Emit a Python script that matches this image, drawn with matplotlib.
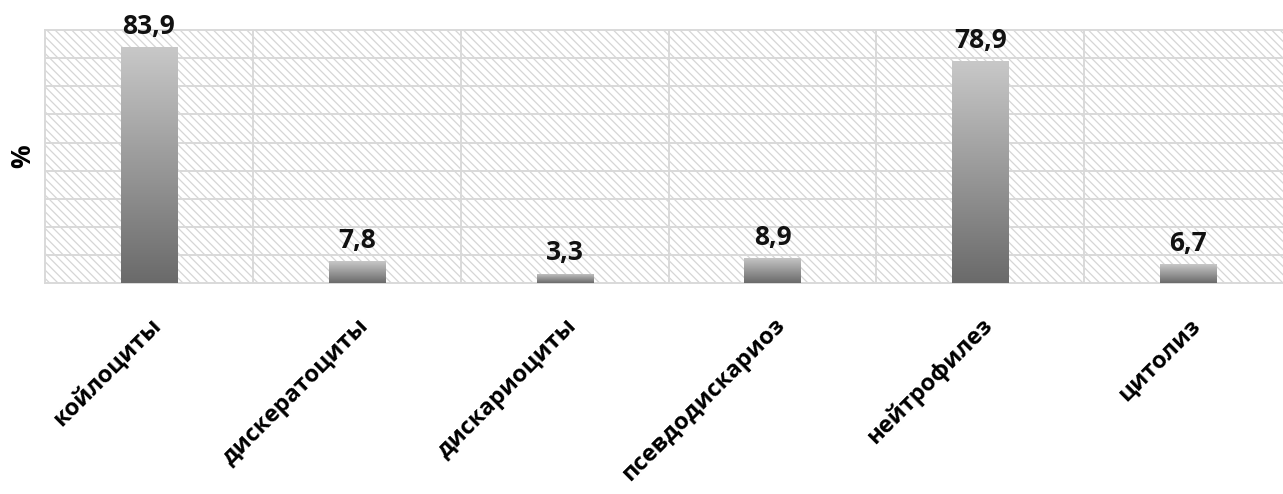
import numpy as np
import matplotlib.pyplot as plt
from matplotlib.colors import LinearSegmentedColormap
from matplotlib.patches import Rectangle

# cytology findings, share of cases
categories = ['койлоциты', 'дискератоциты', 'дискариоциты',
              'псевдодискариоз', 'нейтрофилез', 'цитолиз']
values = [83.9, 7.8, 3.3, 8.9, 78.9, 6.7]
value_labels = ['83,9', '7,8', '3,3', '8,9', '78,9', '6,7']

plt.rcParams['font.family'] = ['Open Sans', 'DejaVu Sans']
plt.rcParams['hatch.linewidth'] = 0.9

fig = plt.figure(figsize=(12.83, 4.94), dpi=100)
ax = fig.add_axes([0.0351, 0.427, 0.972, 0.512])

x = np.arange(len(categories))
ax.set_xlim(-0.5, len(categories) - 0.5)
ax.set_ylim(0, 90)

# hatched plot area
ax.add_patch(Rectangle((0, 0), 1, 1, transform=ax.transAxes, facecolor='white',
                       edgecolor='#d6d6d6', linewidth=0, hatch='\\\\\\\\',
                       zorder=0))

# grid: horizontal every 10 %, vertical between categories
for yv in np.arange(10, 90, 10):
    ax.axhline(yv, color='#d9d9d9', lw=1.4, zorder=1)
for xv in np.arange(0.5, len(categories) - 0.5, 1):
    ax.axvline(xv, color='#d9d9d9', lw=1.4, zorder=1)

bars = ax.bar(x, values, width=0.27, color='none', edgecolor='none', zorder=2)

# vertical grey gradient inside each bar
grey = LinearSegmentedColormap.from_list('grey_bar', ['#6a6a6a', '#c8c8c8'])
grad = np.linspace(0, 1, 256).reshape(-1, 1)
for b in bars:
    x0, w, h = b.get_x(), b.get_width(), b.get_height()
    im = ax.imshow(grad, cmap=grey, origin='lower', aspect='auto',
                   extent=[x0, x0 + w, 0, h], zorder=3)
    im.set_clip_path(b)

for xi, v, lab in zip(x, values, value_labels):
    ax.text(xi, v + 2.6, lab, ha='center', va='bottom', fontsize=19,
            fontweight='bold', color='#111111', zorder=4)

for s in ax.spines.values():
    s.set_color('#d9d9d9')
    s.set_linewidth(1.4)

ax.set_yticks([])
ax.set_xticks(x)
ax.set_xticklabels(categories, rotation=45, ha='right', va='top',
                   rotation_mode='anchor', fontsize=17, fontweight='bold')
ax.tick_params(axis='x', length=0, pad=22)
ax.set_ylabel('%', fontsize=19, fontweight='bold', labelpad=6)

fig.savefig('out.png', dpi=100)
